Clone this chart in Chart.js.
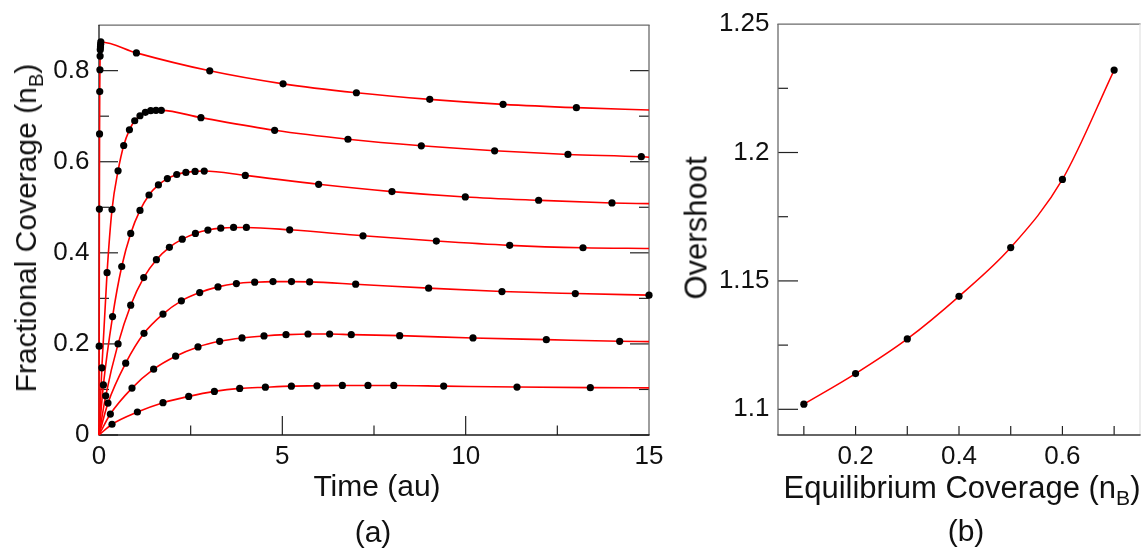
<!DOCTYPE html>
<html><head><meta charset="utf-8">
<script src="https://cdn.jsdelivr.net/npm/chart.js@4.4.1/dist/chart.umd.min.js"></script>
<style>
html,body{margin:0;padding:0;background:#fff;}
#wrap{position:relative;width:1144px;height:548px;overflow:hidden;font-family:"Liberation Sans",Arial,sans-serif;color:#111;}
canvas{position:absolute;top:0;}
.t{position:absolute;font-size:30px;line-height:1;white-space:nowrap;transform:translate(-50%,-50%);}
.b{font-size:31px;}
.v{transform:translate(-50%,-50%) rotate(-90deg);}
.s{font-size:0.68em;position:relative;top:7px;}
</style></head><body>
<div id="wrap">
<canvas id="ca" width="680" height="548" style="left:0"></canvas>
<canvas id="cb" width="464" height="548" style="left:680px"></canvas>
<div class="t v" style="left:26px;top:228px">Fractional Coverage (n<span class="s">B</span>)</div>
<div class="t" style="left:377px;top:486px">Time (au)</div>
<div class="t" style="left:373px;top:532px">(a)</div>
<div class="t b v" style="left:696px;top:228px">Overshoot</div>
<div class="t b" style="left:962px;top:487px">Equilibrium Coverage (n<span class="s">B</span>)</div>
<div class="t" style="left:966px;top:531px">(b)</div>
</div>
<script>
// ---------- Panel (a): fractional coverage vs time ----------
const timeS1 = [0.355,1.047,1.745,2.446,3.147,3.837,4.538,5.247,5.945,6.637,7.336,8.04,9.40,11.40,13.40];
const covS1  = [0.0236,0.0505,0.071,0.0848,0.0957,0.1023,0.105,0.1073,0.108,0.1088,0.1088,0.1088,0.1074,0.1053,0.104];
const timeS2 = [0.31,0.90,1.49,2.09,2.70,3.29,3.90,4.50,5.10,5.70,6.29,6.88,8.20,10.20,12.20,14.20];
const covS2  = [0.046,0.103,0.1445,0.173,0.1934,0.2057,0.2131,0.2175,0.2203,0.2218,0.2218,0.2203,0.2181,0.2131,0.2094,0.2057];
const timeS3 = [0.245,0.728,1.227,1.745,2.247,2.746,3.245,3.747,4.246,4.745,5.25,5.745,7.0,8.99,10.99,12.99,15.0];
const covS3  = [0.070,0.1576,0.2232,0.2656,0.2946,0.3128,0.3252,0.3325,0.3355,0.3368,0.3368,0.3362,0.3311,0.3224,0.315,0.3106,0.3071];
const timeS4 = [0.183,0.52,0.865,1.22,1.565,1.92,2.27,2.63,2.97,3.32,3.67,4.02,5.2,7.2,9.2,11.2,13.2];
const covS4  = [0.086,0.200,0.285,0.3456,0.385,0.412,0.430,0.4426,0.450,0.4542,0.4557,0.4557,0.4505,0.4374,0.4258,0.4164,0.4111];
const timeS5 = [0.12,0.37,0.62,0.865,1.118,1.364,1.62,1.865,2.12,2.37,2.62,2.87,3.99,5.99,7.99,9.99,11.99,13.99];
const covS5  = [0.110,0.26,0.37,0.4426,0.493,0.527,0.549,0.563,0.572,0.5766,0.5788,0.5795,0.570,0.5504,0.5344,0.5227,0.5154,0.5095];
const timeS6 = [0.078,0.22,0.355,0.52,0.674,0.83,0.974,1.118,1.265,1.41,1.554,1.70,2.78,4.79,6.79,8.79,10.79,12.79,14.79];
const covS6  = [0.1475,0.3565,0.495,0.580,0.6356,0.670,0.690,0.701,0.7085,0.712,0.7128,0.7128,0.6968,0.669,0.6494,0.635,0.624,0.616,0.611];
const timeS7 = [0.005,0.01,0.015,0.02,0.025,0.03,0.035,0.04,0.045,0.05,1.02,3.02,5.02,7.02,9.02,11.02,13.02];
const covS7  = [0.195,0.496,0.661,0.754,0.802,0.832,0.846,0.852,0.858,0.863,0.839,0.7996,0.771,0.7515,0.737,0.726,0.7187];
const curveEnd = [0.1035,0.2050,null,0.4095,0.508,0.610,0.7137]; // fitted curve value read at t = 15
const timeTicks = [0,5,10,15];
const timeTickLabels = ['0','5','10','15'];
const timeMinorTicks = [2.5,7.5,12.5];
const covTicks = [0,0.2,0.4,0.6,0.8];
const covTickLabels = ['0','0.2','0.4','0.6','0.8'];
const covMinorTicks = [0.1,0.3,0.5,0.7];

// ---------- Panel (b): overshoot vs equilibrium coverage ----------
const eqCoverage = [0.1,0.2,0.3,0.4,0.5,0.6,0.7];
const overshoot  = [1.102,1.1139,1.1274,1.144,1.163,1.1895,1.2321];
const eqTicks = [0.2,0.4,0.6];
const eqTickLabels = ['0.2','0.4','0.6'];
const eqMinorTicks = [0.1,0.2,0.3,0.4,0.5,0.6,0.7];
const osTicks = [1.1,1.15,1.2,1.25];
const osTickLabels = ['1.1','1.15','1.2','1.25'];
const osMinorTicks = [1.125,1.175,1.225];

Chart.defaults.font.family = '"Liberation Sans", Arial, sans-serif';
Chart.defaults.color = '#111';

const frameTicks = {
  id: 'frameTicks',
  beforeDatasetsDraw(chart, args, o) {
    const ctx = chart.ctx, a = chart.chartArea, xs = chart.scales.x, ys = chart.scales.y;
    ctx.save();
    const seg = (x1,y1,x2,y2,c,w) => { ctx.beginPath(); ctx.strokeStyle=c; ctx.lineWidth=w; ctx.moveTo(x1,y1); ctx.lineTo(x2,y2); ctx.stroke(); };
    ctx.lineCap = 'butt';
    (o.bottom||[]).forEach(([v,len]) => { const x = xs.getPixelForValue(v); seg(x,a.bottom,x,a.bottom-len,o.tickColor,1.2); });
    (o.left||[]).forEach(([v,len]) => { const y = ys.getPixelForValue(v); seg(a.left,y,a.left+len,y,o.tickColor,1.2); });
    (o.right||[]).forEach(([v,len]) => { const y = ys.getPixelForValue(v); seg(a.right,y,a.right-len,y,o.tickColor,1.2); });
    seg(a.left-0.6,a.top,a.right+0.6,a.top,o.topColor,1.3);
    seg(a.right,a.top,a.right,a.bottom,o.rightColor,1.3);
    seg(a.left,a.top,a.left,a.bottom,o.leftColor,1.3);
    seg(a.left-0.6,a.bottom,a.right+0.6,a.bottom,o.bottomColor,1.3);
    ctx.restore();
  }
};

const tickFont = {size: 26};
const noGrid = {display:false, drawTicks:false};

// build panel (a) datasets
const seriesT = [timeS1,timeS2,timeS3,timeS4,timeS5,timeS6,timeS7];
const seriesC = [covS1,covS2,covS3,covS4,covS5,covS6,covS7];
const dsA = [];
seriesT.forEach((ts,i) => {
  const pts = ts.map((t,j) => ({x:t, y:seriesC[i][j]}));
  const curve = [{x:0,y:0}].concat(pts);
  if (curveEnd[i] !== null) curve.push({x:15, y:curveEnd[i]});
  dsA.push({data:curve, showLine:true, borderColor:'#ff0000', borderWidth:1.6, pointRadius:0,
            cubicInterpolationMode:'monotone', order:2, clip:2});
  dsA.push({data:pts, showLine:false, pointRadius:3.6, pointBackgroundColor:'#000', pointBorderWidth:0,
            order:1, clip:false});
});

new Chart(document.getElementById('ca'), {
  type:'scatter',
  data:{datasets:dsA},
  options:{
    responsive:false, animation:false, devicePixelRatio:1,
    layout:{padding:{top:22.5,right:31,left:0,bottom:0}},
    plugins:{legend:{display:false}, tooltip:{enabled:false},
      frameTicks:{
        tickColor:'#222', topColor:'#6a6a6a', rightColor:'#6a6a6a', leftColor:'#1a1a1a', bottomColor:'#1a1a1a',
        bottom: timeTicks.slice(1,-1).map(v=>[v,19]).concat(timeMinorTicks.map(v=>[v,9.5])),
        left: covTicks.map(v=>[v,19]).concat(covMinorTicks.map(v=>[v,10])),
        right: covTicks.map(v=>[v,19]).concat(covMinorTicks.map(v=>[v,10]))
      }},
    scales:{
      x:{type:'linear', min:0, max:15, grid:noGrid, border:{display:false},
         ticks:{padding:6, font:tickFont, color:'#111', maxRotation:0, autoSkip:false,
                callback:(v,i)=>timeTickLabels[i]},
         afterBuildTicks:s=>{s.ticks = timeTicks.map(v=>({value:v}));},
         afterFit:s=>{s.height = 113;}},
      y:{type:'linear', min:0, max:0.9, grid:noGrid, border:{display:false},
         ticks:{padding:9.5, font:tickFont, color:'#111', autoSkip:false,
                callback:(v,i)=>covTickLabels[i]},
         afterBuildTicks:s=>{s.ticks = covTicks.map(v=>({value:v}));},
         afterFit:s=>{s.width = 99;}}
    }
  },
  plugins:[frameTicks]
});

// panel (b)
const ptsB = eqCoverage.map((x,i)=>({x:x, y:overshoot[i]}));
new Chart(document.getElementById('cb'), {
  type:'scatter',
  data:{datasets:[
    {data:ptsB, showLine:false, pointRadius:3.6, pointBackgroundColor:'#000', pointBorderWidth:0, order:1, clip:false},
    {data:ptsB, showLine:true, borderColor:'#ff0000', borderWidth:1.5, pointRadius:0, cubicInterpolationMode:'monotone', order:2}
  ]},
  options:{
    responsive:false, animation:false, devicePixelRatio:1,
    layout:{padding:{top:22.5,right:1,left:0,bottom:0}},
    plugins:{legend:{display:false}, tooltip:{enabled:false},
      frameTicks:{
        tickColor:'#222', topColor:'#6a6a6a', rightColor:'#e4e4e4', leftColor:'#6a6a6a', bottomColor:'#333',
        bottom: eqMinorTicks.map(v=>[v,9]),
        left: osTicks.slice(0,-1).map(v=>[v,20]).concat(osMinorTicks.map(v=>[v,10]))
      }},
    scales:{
      x:{type:'linear', min:0.05, max:0.75, grid:noGrid, border:{display:false},
         ticks:{padding:6, font:tickFont, color:'#111', maxRotation:0, autoSkip:false,
                callback:(v,i)=>eqTickLabels[i]},
         afterBuildTicks:s=>{s.ticks = eqTicks.map(v=>({value:v}));},
         afterFit:s=>{s.height = 113;}},
      y:{type:'linear', min:1.09, max:1.25, grid:noGrid, border:{display:false},
         ticks:{padding:8.5, font:tickFont, color:'#111', autoSkip:false,
                callback:(v,i)=>osTickLabels[i]},
         afterBuildTicks:s=>{s.ticks = osTicks.map(v=>({value:v}));},
         afterFit:s=>{s.width = 98;}}
    }
  },
  plugins:[frameTicks]
});
</script>
</body></html>
